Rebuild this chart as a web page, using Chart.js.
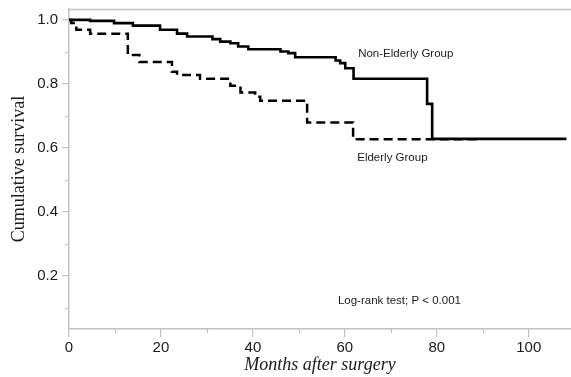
<!DOCTYPE html>
<html>
<head>
<meta charset="utf-8">
<script src="https://cdn.jsdelivr.net/npm/chart.js@4.4.1/dist/chart.umd.min.js"></script>
<style>
  html, body { margin: 0; padding: 0; background: #ffffff; }
  #wrap { width: 571px; height: 377px; position: relative; }
</style>
</head>
<body>
<div id="wrap"><canvas id="c"></canvas></div>
<script>
// ---- Data ----
const nonElderlyMonths = [0, 4.6, 9.8, 13.9, 19.8, 23.5, 25.7, 31.2, 32.9, 35.1, 36.8, 39.0, 46.0, 47.7, 49.2, 58.0, 59.0, 60.1, 61.9, 77.9, 79.0, 108.2];
const nonElderlySurv   = [1.0, 0.997, 0.990, 0.982, 0.969, 0.957, 0.948, 0.940, 0.932, 0.927, 0.917, 0.908, 0.901, 0.896, 0.883, 0.873, 0.865, 0.849, 0.816, 0.7375, 0.628, 0.628];

const elderlyMonths = [0, 0.5, 1.6, 4.6, 12.8, 15.3, 22.4, 23.5, 28.5, 35.1, 37.3, 40.5, 41.6, 51.8, 61.8, 89.4];
const elderlySurv   = [1.0, 0.990, 0.969, 0.957, 0.890, 0.868, 0.838, 0.828, 0.816, 0.794, 0.773, 0.760, 0.747, 0.679, 0.627, 0.627];

const xTicks = [0, 20, 40, 60, 80, 100];
const xMinorTicks = [10, 30, 50, 70, 90];
const yTicks = [0.2, 0.4, 0.6, 0.8, 1.0];
const yMinorTicks = [0.1, 0.3, 0.5, 0.7, 0.9];
const yTickLabels = ['0.2', '0.4', '0.6', '0.8', '1.0'];

const labelNonElderly = 'Non-Elderly Group';
const labelElderly = 'Elderly Group';
const labelTest = 'Log-rank test; P < 0.001';

const toPoints = (xs, ys) => xs.map((x, i) => ({ x: x, y: ys[i] }));

const AXIS_COLOR = '#c2c2c2';
const TEXT_COLOR = '#1a1a1a';

// decorative plugin: top frame line, minor ticks, in-plot annotations
const decor = {
  id: 'decor',
  afterDraw(chart) {
    const { ctx, chartArea, scales } = chart;
    const xs = scales.x, ys = scales.y;
    ctx.save();
    ctx.strokeStyle = AXIS_COLOR;
    ctx.lineWidth = 1.5;
    ctx.beginPath();
    ctx.moveTo(chartArea.left, chartArea.top + 0.5);
    ctx.lineTo(chart.width, chartArea.top + 0.5);
    ctx.stroke();
    ctx.lineWidth = 1.2;
    yMinorTicks.forEach(v => {
      const py = Math.round(ys.getPixelForValue(v)) + 0.5;
      ctx.beginPath();
      ctx.moveTo(chartArea.left - 4, py);
      ctx.lineTo(chartArea.left, py);
      ctx.stroke();
    });
    xMinorTicks.forEach(v => {
      const px = Math.round(xs.getPixelForValue(v)) + 0.5;
      ctx.beginPath();
      ctx.moveTo(px, chartArea.bottom);
      ctx.lineTo(px, chartArea.bottom + 4);
      ctx.stroke();
    });
    ctx.restore();
  },
  afterDatasetsDraw(chart) {
    const { ctx, scales } = chart;
    const xs = scales.x, ys = scales.y;
    const notes = [
      { text: labelNonElderly, x: 62.9, y: 0.895 },
      { text: labelElderly, x: 62.7, y: 0.569 },
      { text: labelTest, x: 58.5, y: 0.122 }
    ];
    ctx.save();
    ctx.fillStyle = TEXT_COLOR;
    ctx.font = '11.5px "Liberation Sans", Arial, sans-serif';
    ctx.textAlign = 'left';
    ctx.textBaseline = 'middle';
    notes.forEach(n => ctx.fillText(n.text, xs.getPixelForValue(n.x), ys.getPixelForValue(n.y)));
    ctx.restore();
  }
};

new Chart(document.getElementById('c'), {
  type: 'line',
  data: {
    datasets: [
      {
        label: 'Elderly Group',
        data: toPoints(elderlyMonths, elderlySurv),
        borderColor: '#000000',
        borderWidth: 2.5,
        borderDash: [9, 5],
        stepped: 'before',
        pointRadius: 0,
        fill: false
      },
      {
        label: 'Non-Elderly Group',
        data: toPoints(nonElderlyMonths, nonElderlySurv),
        borderColor: '#000000',
        borderWidth: 2.6,
        stepped: 'before',
        pointRadius: 0,
        fill: false
      }
    ]
  },
  options: {
    responsive: true,
    maintainAspectRatio: false,
    animation: false,
    layout: { padding: { top: 9, right: 0, left: 0, bottom: 0 } },
    plugins: { legend: { display: false }, tooltip: { enabled: false } },
    scales: {
      x: {
        type: 'linear',
        min: 0,
        max: 109.2,
        afterBuildTicks: s => { s.ticks = xTicks.map(v => ({ value: v })); },
        afterFit: s => { s.height = 48; s.paddingLeft = 0; s.paddingRight = 0; },
        grid: { display: true, drawOnChartArea: false, drawTicks: true, tickLength: 8, color: AXIS_COLOR, lineWidth: 1.2 },
        border: { display: true, color: AXIS_COLOR, width: 1.5 },
        ticks: {
          color: TEXT_COLOR,
          padding: 2,
          maxRotation: 0,
          autoSkip: false,
          font: { family: '"Liberation Sans", Arial, sans-serif', size: 15 },
          callback: v => String(v)
        },
        title: {
          display: true,
          text: 'Months after surgery',
          color: TEXT_COLOR,
          padding: { top: 0, bottom: 1 },
          font: { family: '"Liberation Serif", "Times New Roman", serif', size: 18, style: 'italic' }
        }
      },
      y: {
        type: 'linear',
        min: 0.034,
        max: 1.034,
        afterBuildTicks: s => { s.ticks = yTicks.map(v => ({ value: v })); },
        afterFit: s => { s.width = 69; s.paddingTop = 0; s.paddingBottom = 0; },
        grid: { display: true, drawOnChartArea: false, drawTicks: true, tickLength: 7, color: AXIS_COLOR, lineWidth: 1.2 },
        border: { display: true, color: AXIS_COLOR, width: 1.5 },
        ticks: {
          color: TEXT_COLOR,
          padding: 4,
          autoSkip: false,
          font: { family: '"Liberation Sans", Arial, sans-serif', size: 15 },
          callback: (v) => {
            const i = yTicks.findIndex(t => Math.abs(t - v) < 1e-9);
            return i >= 0 ? yTickLabels[i] : '';
          }
        },
        title: {
          display: true,
          text: 'Cumulative survival',
          color: TEXT_COLOR,
          padding: { top: 8, bottom: 0 },
          font: { family: '"Liberation Serif", "Times New Roman", serif', size: 18 }
        }
      }
    }
  },
  plugins: [decor]
});
</script>
</body>
</html>
